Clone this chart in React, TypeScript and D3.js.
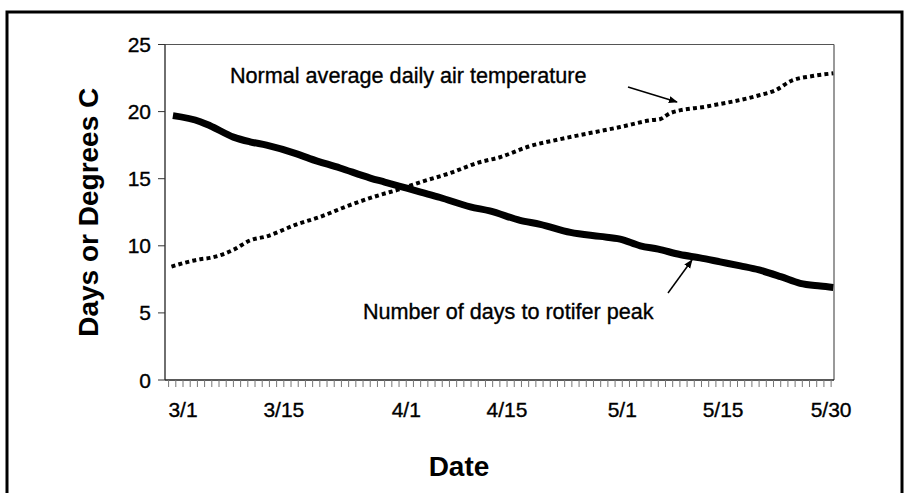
import React from "react";
import * as d3 from "d3";

// Day offsets from March 1 (3/1 = 0)
const rotiferDays = [-1.4, 2.4, 3.75, 7, 9.3, 11.6, 15.8, 17.6, 21.8, 26, 28, 30, 33, 35.7, 39.9, 42.6, 46.8, 49.6, 53.8, 57.9, 60.7, 63.5, 66, 69, 71.8, 74.6, 77.4, 80, 83, 85.7, 88.5, 90.3];
const rotiferValues = [19.7, 19.25, 18.95, 18.1, 17.75, 17.5, 16.85, 16.5, 15.8, 15.05, 14.75, 14.45, 14.0, 13.6, 12.9, 12.6, 11.9, 11.6, 11.0, 10.7, 10.5, 10.0, 9.75, 9.35, 9.1, 8.8, 8.5, 8.2, 7.7, 7.2, 7.0, 6.9];

const tempDays = [-1.6, 2.4, 3.75, 7, 9.3, 11.6, 15.8, 19, 23, 27.4, 30, 33, 37, 41, 44, 48, 52.4, 56.5, 60.7, 64.9, 66.3, 67.7, 72.9, 79.9, 82.3, 84.5, 87.4, 90.3];
const tempValues = [8.45, 9.0, 9.1, 9.7, 10.4, 10.7, 11.6, 12.15, 13.0, 13.8, 14.2, 14.75, 15.4, 16.2, 16.6, 17.4, 17.95, 18.4, 18.85, 19.35, 19.45, 19.9, 20.4, 21.2, 21.6, 22.3, 22.65, 22.85];

const tickLabels = ["3/1", "3/15", "4/1", "4/15", "5/1", "5/15", "5/30"];
const tickDays = [0, 14, 31, 45, 61, 75, 90];
const yTicks = [0, 5, 10, 15, 20, 25];

export default function App() {
  const W = 906, H = 493;
  const x = d3.scaleLinear().domain([-2.5, 90.4]).range([165, 834]);
  const y = d3.scaleLinear().domain([0, 25]).range([380, 44.5]);
  const line = d3.line<[number, number]>().x(d => x(d[0])).y(d => y(d[1])).curve(d3.curveMonotoneX);
  const rotifer = line(rotiferDays.map((d, i) => [d, rotiferValues[i]]) as [number, number][]) || "";
  const temp = line(tempDays.map((d, i) => [d, tempValues[i]]) as [number, number][]) || "";
  const minor = d3.range(-2, 91);
  const font = "Liberation Sans, Arial, Helvetica, sans-serif";
  const heavy = { stroke: "#000", strokeWidth: 0.35 };

  return (
    <svg width={W} height={H} style={{ position: "absolute", left: 0, top: 0, background: "#fff" }} fontFamily={font}>
      <defs>
        <marker id="ah" viewBox="0 0 10 10" refX="9" refY="5" markerWidth="9" markerHeight="9" markerUnits="userSpaceOnUse" orient="auto">
          <path d="M0,1 L10,5 L0,9 z" fill="#000" />
        </marker>
      </defs>
      <rect x={0} y={0} width={W} height={H} fill="#fff" />
      {/* outer frame */}
      <rect x={7} y={12} width={895} height={H + 20} fill="none" stroke="#000" strokeWidth={3} />
      {/* plot border */}
      <line x1={x(-2.5)} x2={x(90.4)} y1={y(25)} y2={y(25)} stroke="#555" strokeWidth={1.2} />
      <line x1={x(90.4)} x2={x(90.4)} y1={y(25)} y2={y(0)} stroke="#555" strokeWidth={1.2} />
      {/* axes */}
      <line x1={x(-2.5)} x2={x(-2.5)} y1={y(25)} y2={y(0)} stroke="#222" strokeWidth={1.3} />
      <line x1={x(-2.5)} x2={x(90.4)} y1={y(0)} y2={y(0)} stroke="#222" strokeWidth={1.3} />
      {yTicks.map(t => (
        <g key={t}>
          <line x1={158} x2={x(-2.5)} y1={y(t)} y2={y(t)} stroke="#333" strokeWidth={1} />
          <text x={151} y={y(t)} dy="0.36em" textAnchor="end" fontSize={21} {...heavy}>{t}</text>
        </g>
      ))}
      {minor.map(m => (
        <line key={m} x1={x(m)} x2={x(m)} y1={y(0)} y2={y(0) + 7} stroke="#777" strokeWidth={1} />
      ))}
      {tickLabels.map((t, i) => (
        <text key={t} x={x(tickDays[i])} y={417} textAnchor="middle" fontSize={21} {...heavy}>{t}</text>
      ))}
      {/* series */}
      <path d={temp} fill="none" stroke="#000" strokeWidth={4} strokeDasharray="4 3.2" />
      <path d={rotifer} fill="none" stroke="#000" strokeWidth={7} strokeLinejoin="round" />
      {/* annotations */}
      <text x={230} y={83} fontSize={21.6} {...heavy}>Normal average daily air temperature</text>
      <line x1={628} y1={87} x2={677} y2={102} stroke="#000" strokeWidth={1.5} markerEnd="url(#ah)" />
      <text x={363} y={319} fontSize={21.6} {...heavy}>Number of days to rotifer peak</text>
      <line x1={668} y1={293} x2={692} y2={260} stroke="#000" strokeWidth={1.5} markerEnd="url(#ah)" />
      {/* axis titles */}
      <text x={459} y={476} textAnchor="middle" fontSize={28} fontWeight="bold">Date</text>
      <text transform={`translate(98,${(y(0) + y(25)) / 2}) rotate(-90)`} textAnchor="middle" fontSize={28} fontWeight="bold">Days or Degrees C</text>
    </svg>
  );
}
